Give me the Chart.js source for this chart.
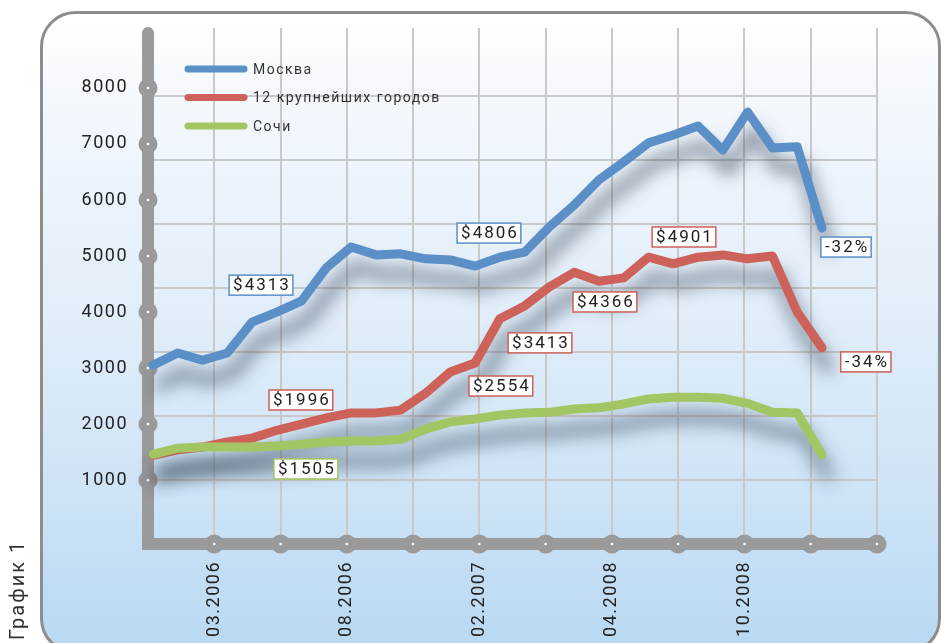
<!DOCTYPE html>
<html>
<head>
<meta charset="utf-8">
<script src="https://cdn.jsdelivr.net/npm/chart.js@4.4.1/dist/chart.umd.min.js"></script>
<style>
  html, body { margin: 0; padding: 0; background: #fff; }
  canvas { display: block; }
</style>
</head>
<body>
<canvas id="priceChart" width="941" height="643"></canvas>
<script>
// series values ($ per sq. m)
const seriesNames = ['Москва', '12 крупнейших городов', 'Сочи'];
const moscow   = [3050, 3270, 3140, 3270, 3820, 4000, 4200, 4790, 5160, 5020, 5040, 4950, 4930, 4820,
                  4980, 5070, 5520, 5910, 6360, 6680, 7020, 7160, 7320, 6890, 7570, 6930, 6950, 5500];
const cities12 = [1440, 1540, 1590, 1680, 1750, 1890, 2000, 2110, 2200, 2200, 2250, 2550, 2930, 3090,
                  3880, 4110, 4450, 4710, 4550, 4610, 4980, 4860, 4980, 5020, 4950, 5000, 4000, 3360];
const sochi    = [1460, 1570, 1590, 1590, 1590, 1610, 1640, 1680, 1700, 1700, 1730, 1910, 2040, 2090,
                  2160, 2200, 2210, 2270, 2290, 2360, 2450, 2480, 2480, 2460, 2370, 2210, 2200, 1450];

// tick labels
const xTickLabels = ['', '03.2006', '', '08.2006', '', '02.2007', '', '04.2008', '', '10.2008', '', ''];
const yTickValues = [1000, 2000, 3000, 4000, 5000, 6000, 7000, 8000];

// boxed notes: series index, point position (index units) and value
const notes = [
  { text: '$4313', s: 0, x: 4.36,  y: 4480 },
  { text: '$4806', s: 0, x: 13.56, y: 5410 },
  { text: '-32%',  s: 0, x: 27.97, y: 5160 },
  { text: '$1996', s: 1, x: 5.97,  y: 2430 },
  { text: '$2554', s: 1, x: 14.04, y: 2680 },
  { text: '$3413', s: 1, x: 15.62, y: 3450 },
  { text: '$4366', s: 1, x: 18.24, y: 4180 },
  { text: '$4901', s: 1, x: 21.43, y: 5340 },
  { text: '-34%',  s: 1, x: 28.77, y: 3110 },
  { text: '$1505', s: 2, x: 6.17,  y: 1200 }
];

const colors = ['#5b8fc8', '#cc6259', '#a3c563'];
const AXIS = '#9a9a9a';
const GRID = '#c9c9c9';

const toPoints = arr => arr.map((v, i) => ({ x: i, y: v }));

const decor = {
  id: 'decor',
  beforeDraw(chart) {
    const ctx = chart.ctx;
    ctx.save();
    const g = ctx.createLinearGradient(0, 12, 0, 643);
    g.addColorStop(0, '#ffffff');
    g.addColorStop(0.15, '#f3f8fd');
    g.addColorStop(0.5, '#e0edf9');
    g.addColorStop(0.75, '#cfe4f6');
    g.addColorStop(1, '#b9d9f2');
    ctx.beginPath();
    ctx.roundRect(41.5, 12.5, 898, 640, 34);
    ctx.fillStyle = g;
    ctx.fill();
    ctx.lineWidth = 3;
    ctx.strokeStyle = '#8d8d8d';
    ctx.stroke();

    // caption on the left
    ctx.translate(19, 640);
    ctx.rotate(-Math.PI / 2);
    ctx.font = '20px Roboto';
    ctx.letterSpacing = '2px';
    ctx.fillStyle = '#333';
    ctx.textAlign = 'left';
    ctx.textBaseline = 'middle';
    ctx.fillText('График 1', 0, 0);
    ctx.restore();
    ctx.letterSpacing = '1.5px';
  },
  beforeDatasetsDraw(chart) {
    const ctx = chart.ctx;
    const { left, right, top, bottom } = chart.chartArea;
    const y = chart.scales.y, xd = chart.scales.xd;
    ctx.save();
    ctx.strokeStyle = AXIS;
    ctx.lineWidth = 12;
    ctx.lineCap = 'round';
    ctx.beginPath();
    ctx.moveTo(left, top + 5);
    ctx.lineTo(left, bottom);
    ctx.lineTo(right, bottom);
    ctx.stroke();
    const dots = [];
    y.ticks.forEach(t => dots.push([left, y.getPixelForValue(t.value)]));
    xd.ticks.forEach(t => { if (t.value > 0) dots.push([xd.getPixelForValue(t.value), bottom]); });
    dots.forEach(([px, py]) => {
      ctx.beginPath();
      ctx.arc(px, py, 9.5, 0, Math.PI * 2);
      ctx.fillStyle = AXIS;
      ctx.fill();
      ctx.beginPath();
      ctx.arc(px, py, 1.3, 0, Math.PI * 2);
      ctx.fillStyle = '#fff';
      ctx.fill();
    });
    ctx.restore();
  },
  beforeDatasetDraw(chart) {
    const ctx = chart.ctx;
    ctx.save();
    ctx.shadowColor = 'rgba(35, 50, 70, 0.7)';
    ctx.shadowBlur = 18;
    ctx.shadowOffsetX = 6;
    ctx.shadowOffsetY = 20;
  },
  afterDatasetDraw(chart) {
    chart.ctx.restore();
  },
  afterDatasetsDraw(chart) {
    const ctx = chart.ctx;
    const x = chart.scales.x, y = chart.scales.y;
    ctx.save();
    ctx.font = '17px Roboto';
    ctx.letterSpacing = '2px';
    ctx.textAlign = 'center';
    ctx.textBaseline = 'middle';
    notes.forEach(n => {
      const px = x.getPixelForValue(n.x);
      const py = y.getPixelForValue(n.y);
      const w = ctx.measureText(n.text).width + 6;
      const h = 20;
      ctx.fillStyle = '#fff';
      ctx.fillRect(px - w / 2, py - h / 2, w, h);
      ctx.lineWidth = 1.5;
      ctx.strokeStyle = colors[n.s];
      ctx.strokeRect(px - w / 2, py - h / 2, w, h);
      ctx.fillStyle = '#222';
      ctx.fillText(n.text, px + 1, py + 1);
    });

    // legend
    const { left, top } = chart.chartArea;
    ctx.font = '14px Roboto';
    ctx.letterSpacing = '1.5px';
    ctx.textAlign = 'left';
    chart.data.datasets.forEach((ds, i) => {
      const ly = top + 41 + i * 28.5;
      ctx.beginPath();
      ctx.moveTo(left + 40, ly);
      ctx.lineTo(left + 96, ly);
      ctx.lineWidth = 7;
      ctx.lineCap = 'round';
      ctx.strokeStyle = ds.borderColor;
      ctx.stroke();
      ctx.fillStyle = '#333';
      ctx.fillText(ds.label, left + 105, ly + 1);
    });
    ctx.restore();
  }
};

const datasets = [moscow, cities12, sochi].map((arr, i) => ({
  label: seriesNames[i],
  data: toPoints(arr),
  borderColor: colors[i],
  backgroundColor: colors[i],
  borderWidth: 9,
  borderJoinStyle: 'round',
  borderCapStyle: 'round',
  pointRadius: 0,
  tension: 0,
  clip: false,
  order: 2 - i,
  xAxisID: 'x',
  yAxisID: 'y'
}));

new Chart(document.getElementById('priceChart').getContext('2d'), {
  type: 'line',
  data: { datasets },
  options: {
    responsive: false,
    animation: false,
    devicePixelRatio: 1,
    layout: { padding: { left: 0, top: 28, right: 64, bottom: 0 } },
    plugins: { legend: { display: false }, tooltip: { enabled: false } },
    scales: {
      x: { type: 'linear', min: -0.2, max: 29.22, display: false },
      xd: {
        type: 'linear', position: 'bottom', min: 0, max: 11,
        afterBuildTicks: s => { s.ticks = xTickLabels.map((_, j) => ({ value: j })); },
        afterFit: s => { s.height = 99; },
        grid: { color: GRID, lineWidth: 2, drawTicks: false },
        border: { display: false },
        ticks: {
          autoSkip: false, minRotation: 90, maxRotation: 90, padding: 17,
          color: '#222', font: { family: 'Roboto', size: 18 },
          callback: (v, i) => xTickLabels[i]
        }
      },
      y: {
        type: 'linear', position: 'left', min: -140, max: 9070,
        afterBuildTicks: s => { s.ticks = yTickValues.map(v => ({ value: v })); },
        afterFit: s => { s.width = 148; },
        grid: { display: false },
        border: { display: false },
        ticks: {
          padding: 12, color: '#222', font: { family: 'Roboto', size: 18 },
          callback: v => String(v)
        }
      },
      yg: {
        type: 'linear', position: 'left', min: -1, max: 7.06,
        afterBuildTicks: s => { s.ticks = [0, 1, 2, 3, 4, 5, 6].map(v => ({ value: v })); },
        afterFit: s => { s.width = 0; },
        grid: { color: GRID, lineWidth: 2, drawTicks: false },
        border: { display: false },
        ticks: { display: false }
      }
    }
  },
  plugins: [decor]
});
</script>
</body>
</html>
